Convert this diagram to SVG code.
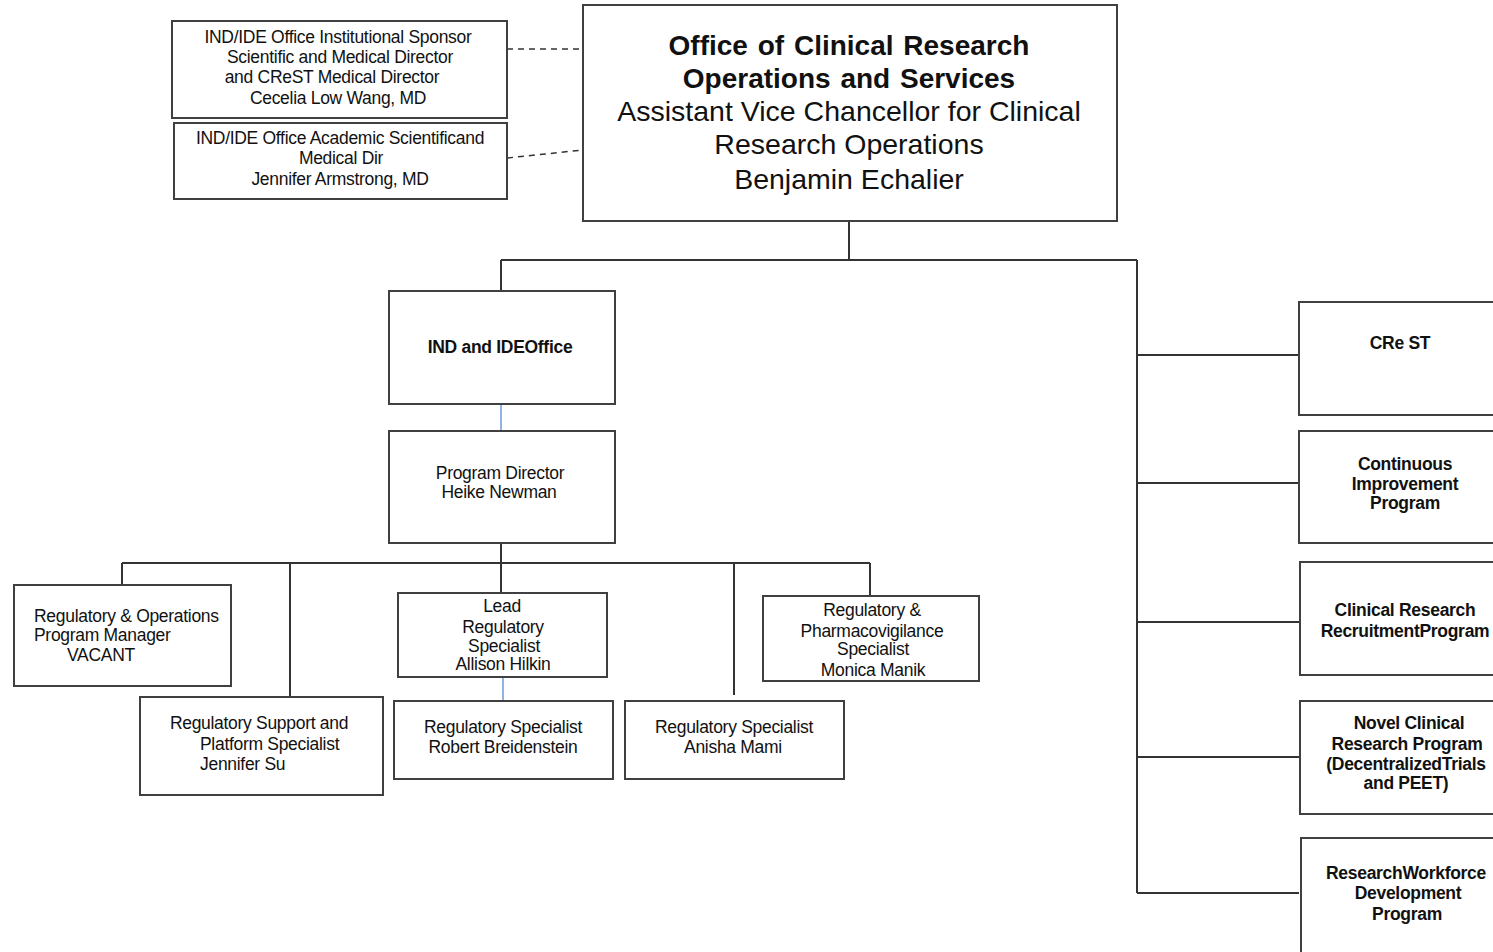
<svg xmlns="http://www.w3.org/2000/svg" width="1493" height="952" viewBox="0 0 1493 952">
<style>
.box{fill:#fff;stroke:#404040;stroke-width:2}
.ln{fill:none;stroke:#333;stroke-width:2}
.blue{fill:none;stroke:#8fb4e3;stroke-width:2}
.dash{fill:none;stroke:#333;stroke-width:1.5;stroke-dasharray:6 5}
text{font-family:"Liberation Sans",Arial,sans-serif;fill:#111}
.s{font-size:17.5px;letter-spacing:-0.3px}
.c{text-anchor:middle}
.b{font-weight:bold}
.big{font-size:28.5px}
.bt{font-size:28px;font-weight:bold;word-spacing:2px}
</style>
<rect width="1493" height="952" fill="#fff"/>
<g id="connectors">
<path class="dash" d="M507 49H583"/>
<path class="dash" d="M507 158L583 150"/>
<path class="ln" d="M849 221V260M501 260H1137M501 260V291M1137 260V893"/>
<path class="ln" d="M1137 355H1299M1137 483H1299M1137 622H1299M1137 757H1299M1137 893H1299"/>
<path class="blue" d="M501 404V431"/>
<path class="ln" d="M501 543V563M122 563H870M122 563V585M290 563V697M501 563V593M734 563V695M870 563V596"/>
<path class="blue" d="M503 677V701"/>
</g>
<g id="n-sponsor"><rect class="box" x="172" y="21" width="335" height="97"/>
<text class="s c" x="338" y="43">IND/IDE Office Institutional Sponsor</text>
<text class="s c" x="340" y="63">Scientific and Medical Director</text>
<text class="s c" x="332" y="83">and CReST Medical Director</text>
<text class="s c" x="338" y="104">Cecelia Low Wang, MD</text></g>
<g id="n-academic"><rect class="box" x="174" y="123" width="333" height="76"/>
<text class="s c" x="340" y="144">IND/IDE Office Academic Scientificand</text>
<text class="s c" x="341" y="164">Medical Dir</text>
<text class="s c" x="340" y="185">Jennifer Armstrong, MD</text></g>
<g id="n-main"><rect class="box" x="583" y="5" width="534" height="216"/>
<text class="bt c" x="849" y="55">Office of Clinical Research</text>
<text class="bt c" x="849" y="88">Operations and Services</text>
<text class="big c" x="849" y="121">Assistant Vice Chancellor for Clinical</text>
<text class="big c" x="849" y="154">Research Operations</text>
<text class="big c" x="849" y="189">Benjamin Echalier</text></g>
<g id="n-ind"><rect class="box" x="389" y="291" width="226" height="113"/>
<text class="s b c" x="500" y="353">IND and IDEOffice</text></g>
<g id="n-pd"><rect class="box" x="389" y="431" width="226" height="112"/>
<text class="s c" x="500" y="479">Program Director</text>
<text class="s c" x="499" y="498">Heike Newman</text></g>
<g id="n-regops"><rect class="box" x="14" y="585" width="217" height="101"/>
<text class="s" x="34" y="622">Regulatory &amp; Operations</text>
<text class="s" x="34" y="641">Program Manager</text>
<text class="s" x="67" y="661">VACANT</text></g>
<g id="n-support"><rect class="box" x="140" y="697" width="243" height="98"/>
<text class="s c" x="259" y="729">Regulatory Support and</text>
<text class="s" x="200" y="750">Platform Specialist</text>
<text class="s" x="200" y="770">Jennifer Su</text></g>
<g id="n-lead"><rect class="box" x="398" y="593" width="209" height="84"/>
<text class="s c" x="502" y="612">Lead</text>
<text class="s c" x="503" y="633">Regulatory</text>
<text class="s c" x="504" y="652">Specialist</text>
<text class="s c" x="503" y="670">Allison Hilkin</text></g>
<g id="n-robert"><rect class="box" x="394" y="701" width="219" height="78"/>
<text class="s c" x="503" y="733">Regulatory Specialist</text>
<text class="s c" x="503" y="753">Robert Breidenstein</text></g>
<g id="n-anisha"><rect class="box" x="625" y="701" width="219" height="78"/>
<text class="s c" x="734" y="733">Regulatory Specialist</text>
<text class="s c" x="733" y="753">Anisha Mami</text></g>
<g id="n-pharm"><rect class="box" x="763" y="596" width="216" height="85"/>
<text class="s c" x="872" y="616">Regulatory &amp;</text>
<text class="s c" x="872" y="637">Pharmacovigilance</text>
<text class="s c" x="873" y="655">Specialist</text>
<text class="s c" x="873" y="676">Monica Manik</text></g>
<g id="n-crest"><rect class="box" x="1299" y="302" width="220" height="113"/>
<text class="s b c" x="1400" y="349">CRe ST</text></g>
<g id="n-cip"><rect class="box" x="1299" y="431" width="220" height="112"/>
<text class="s b c" x="1405" y="470">Continuous</text>
<text class="s b c" x="1405" y="490">Improvement</text>
<text class="s b c" x="1405" y="509">Program</text></g>
<g id="n-crrp"><rect class="box" x="1300" y="562" width="220" height="113"/>
<text class="s b c" x="1405" y="616">Clinical Research</text>
<text class="s b c" x="1405" y="637">RecruitmentProgram</text></g>
<g id="n-novel"><rect class="box" x="1300" y="701" width="220" height="113"/>
<text class="s b c" x="1409" y="729">Novel Clinical</text>
<text class="s b c" x="1407" y="750">Research Program</text>
<text class="s b c" x="1406" y="770">(DecentralizedTrials</text>
<text class="s b c" x="1406" y="789">and PEET)</text></g>
<g id="n-rwd"><rect class="box" x="1301" y="838" width="220" height="130"/>
<text class="s b c" x="1406" y="879">ResearchWorkforce</text>
<text class="s b c" x="1408" y="899">Development</text>
<text class="s b c" x="1407" y="920">Program</text></g>
</svg>
